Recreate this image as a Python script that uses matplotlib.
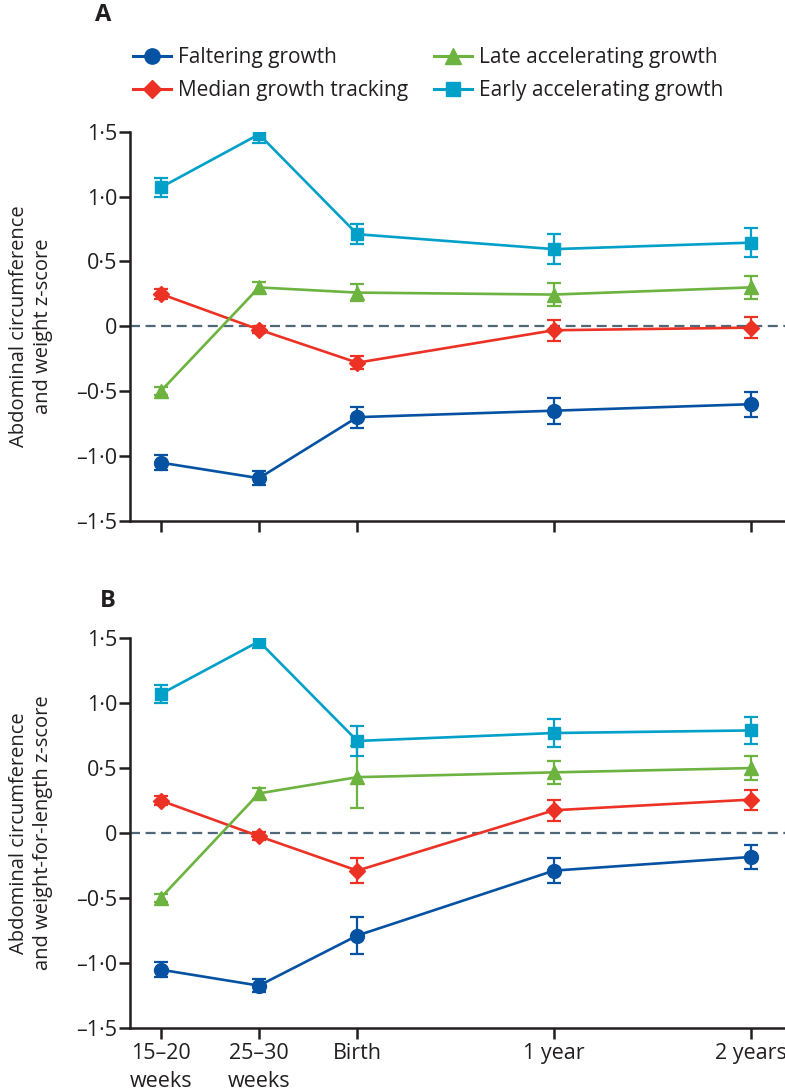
import matplotlib
matplotlib.use("Agg")
import matplotlib.pyplot as plt
from matplotlib.lines import Line2D
from matplotlib.ticker import FixedLocator

plt.rcParams['font.family'] = ['Open Sans', 'DejaVu Sans']

# time points (x spacing follows the original: pregnancy scans, birth, 1 y, 2 y)
x_pos = [0, 1, 2, 4, 6]
x_labels = ["15\u201320\nweeks", "25\u201330\nweeks", "Birth", "1 year", "2 years"]

series_names = ["Faltering growth", "Median growth tracking",
                "Late accelerating growth", "Early accelerating growth"]

# panel A: abdominal circumference and weight z-score
a_falter = [-1.05, -1.17, -0.70, -0.65, -0.60]
a_falter_err = [0.06, 0.055, 0.08, 0.10, 0.095]
a_median = [0.25, -0.025, -0.28, -0.03, -0.01]
a_median_err = [0.04, 0.03, 0.05, 0.08, 0.08]
a_late = [-0.50, 0.30, 0.26, 0.245, 0.30]
a_late_err = [0.03, 0.045, 0.065, 0.09, 0.09]
a_early = [1.07, 1.48, 0.71, 0.595, 0.645]
a_early_err = [0.075, 0.065, 0.075, 0.115, 0.11]

# panel B: abdominal circumference and weight-for-length z-score
b_falter = [-1.053, -1.176, -0.79, -0.29, -0.185]
b_falter_err = [0.06, 0.05, 0.14, 0.095, 0.095]
b_median = [0.25, -0.025, -0.29, 0.175, 0.257]
b_median_err = [0.035, 0.03, 0.095, 0.08, 0.077]
b_late = [-0.50, 0.305, 0.43, 0.467, 0.50]
b_late_err = [0.03, 0.04, 0.24, 0.09, 0.09]
b_early = [1.07, 1.476, 0.709, 0.77, 0.79]
b_early_err = [0.07, 0.05, 0.115, 0.11, 0.106]

colors = ["#0552a3", "#ec3125", "#6cb33f", "#00a0c8"]
markers = ["o", "D", "^", "s"]
msizes = [10, 8.5, 10, 8.5]
ink = "#231f20"

fig = plt.figure(figsize=(7.85, 10.92), dpi=100)
axA = fig.add_axes([0.1656, 0.5229, 0.8344, 0.3565])
axB = fig.add_axes([0.1656, 0.0589, 0.8344, 0.3566])


def draw_panel(ax, data, errs, ylabel, show_xlabels):
    ax.axhline(0, color="#4e6877", lw=1.6, ls=(0, (4.5, 2.5)), zorder=1)
    for vals, err, c, m, ms, name in zip(data, errs, colors, markers, msizes, series_names):
        ax.errorbar(x_pos, vals, yerr=err, color=c, marker=m, ms=ms, lw=1.9,
                    elinewidth=1.6, capsize=5, capthick=1.6, zorder=3)
    ax.set_xlim(-0.312, 6.35)
    ax.set_ylim(-1.5, 1.5)
    yt = [-1.5, -1.0, -0.5, 0, 0.5, 1.0, 1.5]
    ax.yaxis.set_major_locator(FixedLocator(yt))
    ax.set_yticklabels([("0" if v == 0 else f"{v:.1f}".replace(".", "\u00b7").replace("-", "\u2013")) for v in yt])
    ax.set_xticks(x_pos)
    if show_xlabels:
        ax.set_xticklabels(x_labels, linespacing=1.45)
    else:
        ax.set_xticklabels([])
    for s in ["top", "right"]:
        ax.spines[s].set_visible(False)
    for s in ["left", "bottom"]:
        ax.spines[s].set_linewidth(1.8)
        ax.spines[s].set_color(ink)
    ax.tick_params(axis="both", direction="out", length=8, width=1.8, color=ink,
                   labelsize=15.5, labelcolor=ink)
    ax.tick_params(axis="y", pad=1)
    ax.tick_params(axis="x", pad=3)
    ax.set_ylabel(ylabel, fontsize=14.5, color=ink, linespacing=1.22)
    ax.yaxis.set_label_coords(-0.118, 0.5)


draw_panel(axA, [a_falter, a_median, a_late, a_early],
           [a_falter_err, a_median_err, a_late_err, a_early_err],
           "Abdominal circumference\nand weight z-score", False)
draw_panel(axB, [b_falter, b_median, b_late, b_early],
           [b_falter_err, b_median_err, b_late_err, b_early_err],
           "Abdominal circumference\nand weight-for-length z-score", True)

fig.text(0.121, 0.997, "A", fontsize=17, fontweight="bold", color=ink, va="top")
fig.text(0.127, 0.461, "B", fontsize=17, fontweight="bold", color=ink, va="top")

handles = [Line2D([], [], color=c, marker=m, ms=ms + 1, lw=2.2)
           for c, m, ms in zip(colors, markers, msizes)]
fig.legend(handles, series_names, loc="upper left", bbox_to_anchor=(0.145, 0.974),
           ncol=2, frameon=False, fontsize=15, handlelength=1.85, handletextpad=0.35,
           columnspacing=1.2, labelspacing=0.58, labelcolor=ink)

fig.savefig("out.png", dpi=100)
